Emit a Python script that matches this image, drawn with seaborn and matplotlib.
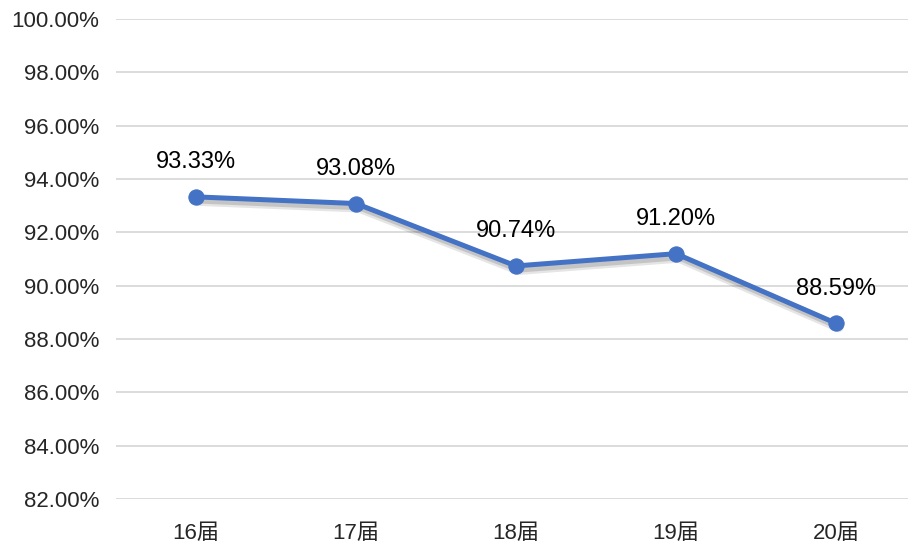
import numpy as np
import pandas as pd
import matplotlib
matplotlib.use('Agg')
import matplotlib.pyplot as plt
import matplotlib.patheffects as pe
import seaborn as sns

# data
cohorts = ['16届', '17届', '18届', '19届', '20届']
rates = [93.33, 93.08, 90.74, 91.20, 88.59]
yticks = [82, 84, 86, 88, 90, 92, 94, 96, 98, 100]

sns.set_style('white')
plt.rcParams['font.family'] = ['Liberation Sans', 'Noto Sans CJK SC', 'DejaVu Sans']

df = pd.DataFrame({'cohort': cohorts, 'rate': rates})

fig = plt.figure(figsize=(9.08, 5.44), dpi=100)
ax = fig.add_axes([116 / 908, 1 - 499 / 544, (908 - 116) / 908, 480 / 544])

line_color = '#4472C4'
# soft drop shadow under the line
shadow = [pe.SimpleLineShadow(offset=(2, -3), shadow_color='k', alpha=0.1, linewidth=7),
          pe.SimpleLineShadow(offset=(2, -3), shadow_color='k', alpha=0.14),
          pe.Normal()]
sns.lineplot(data=df, x='cohort', y='rate', ax=ax, color=line_color, linewidth=3.6,
             sort=False, path_effects=shadow, zorder=3)
# markers
sns.lineplot(data=df, x='cohort', y='rate', ax=ax, color=line_color, linestyle='',
             marker='o', markersize=11, markeredgecolor=line_color, sort=False, zorder=4)

for i, v in enumerate(rates):
    ax.annotate(f'{v:.2f}%', (i, v), xytext=(0, 25), textcoords='offset points',
                ha='center', va='center', fontsize=17, color='#000000')

ax.set_ylim(82, 100)
ax.set_xlim(-0.5, 4.45)
ax.set_yticks(yticks)
ax.set_yticklabels([f'{t:.2f}%' for t in yticks], fontsize=16)
ax.tick_params(axis='x', labelsize=16, length=0, pad=17)
ax.tick_params(axis='y', length=0, pad=12)
ax.grid(axis='y', color='#D9D9D9', linewidth=1.3)
ax.set_axisbelow(True)
for s in ax.spines.values():
    s.set_visible(False)
ax.set_xlabel('')
ax.set_ylabel('')

fig.savefig('out.png', dpi=100)
